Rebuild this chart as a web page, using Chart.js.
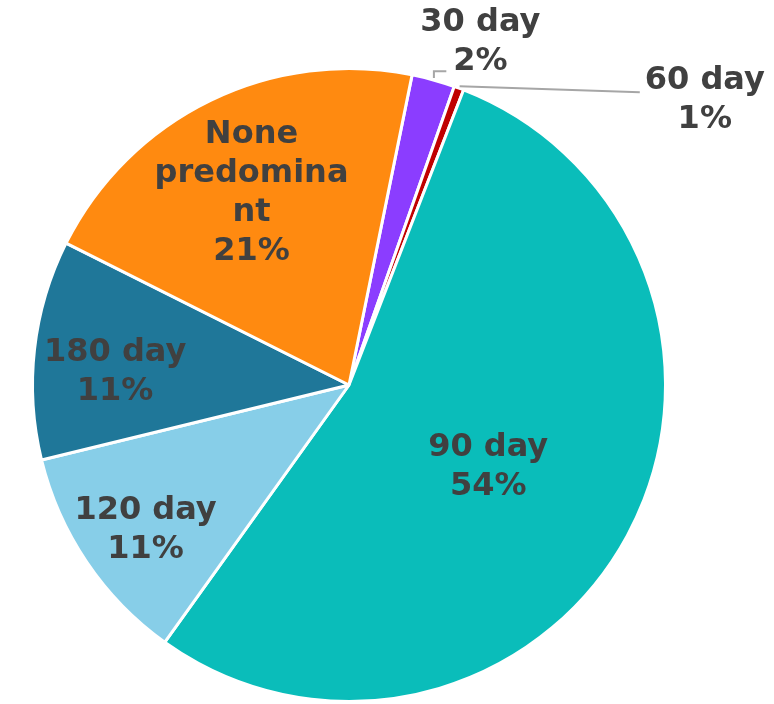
<!DOCTYPE html>
<html>
<head>
<meta charset="utf-8">
<script src="https://cdn.jsdelivr.net/npm/chart.js@4.4.1/dist/chart.umd.min.js"></script>
<style>
  html, body { margin: 0; padding: 0; background: #ffffff; }
  #wrap { width: 774px; height: 704px; }
</style>
</head>
<body>
<div id="wrap"><canvas id="pie" width="774" height="704"></canvas></div>
<script>
// data (percent of total)
const categories = ["30 day", "60 day", "90 day", "120 day", "180 day", "None predominant"];
const shares = [2.2, 0.5, 54.0, 11.3, 11.2, 20.8];
const sliceColors = ["#8B3DFF", "#C00000", "#0ABDBA", "#87CEE8", "#1F7799", "#FF8A10"];

// where each data label sits: fraction of radius + angle shift (deg) from slice middle
const labelSpots = [
  { r: 1.16, shift: 5.5, leader: "elbow" },
  { r: 1.44, shift: 31, leader: "straight" },
  { r: 0.51, shift: 2 },
  { r: 0.79, shift: -1.5 },
  { r: 0.74, shift: -3.4 },
  { r: 0.68, shift: -1 },
];

const LABEL_FONT = "bold 32px 'DejaVu Sans', Verdana, sans-serif";
const LINE_H = 39;

function wrapText(ctx, text, maxW) {
  const lines = [];
  let cur = "";
  text.split(" ").forEach(word => {
    const tryLine = cur ? cur + " " + word : word;
    if (ctx.measureText(tryLine).width <= maxW) {
      cur = tryLine;
      return;
    }
    if (cur) lines.push(cur);
    cur = "";
    // break long words by characters
    let piece = "";
    for (const ch of word) {
      if (ctx.measureText(piece + ch).width > maxW && piece) {
        lines.push(piece);
        piece = ch;
      } else {
        piece += ch;
      }
    }
    cur = piece;
  });
  if (cur) lines.push(cur);
  return lines;
}

const pieLabels = {
  id: "pieLabels",
  afterDatasetsDraw(chart) {
    const ctx = chart.ctx;
    const arcs = chart.getDatasetMeta(0).data;
    ctx.save();
    ctx.font = LABEL_FONT;
    ctx.textAlign = "center";
    ctx.textBaseline = "middle";
    arcs.forEach((arc, i) => {
      const p = arc.getProps(["x", "y", "startAngle", "endAngle", "outerRadius"], true);
      const mid = (p.startAngle + p.endAngle) / 2;
      const spot = labelSpots[i];
      const a = mid + spot.shift * Math.PI / 180;
      const lx = p.x + Math.cos(a) * p.outerRadius * spot.r;
      const ly = p.y + Math.sin(a) * p.outerRadius * spot.r;

      const pct = Math.round(shares[i] / shares.reduce((s, v) => s + v, 0) * 100) + "%";
      const lines = wrapText(ctx, categories[i], 200).concat([pct]);

      if (spot.leader) {
        const sx = p.x + Math.cos(mid) * (p.outerRadius + 2);
        const sy = p.y + Math.sin(mid) * (p.outerRadius + 2);
        ctx.strokeStyle = "#A6A6A6";
        ctx.lineWidth = 2;
        ctx.beginPath();
        ctx.moveTo(sx, sy);
        if (spot.leader === "elbow") {
          const ey = ly + 29;
          ctx.lineTo(sx, ey);
          ctx.lineTo(lx - 34, ey);
        } else {
          ctx.lineTo(lx - 65, ly - 8);
        }
        ctx.stroke();
      }

      ctx.fillStyle = "#404040";
      const top = ly - (lines.length - 1) * LINE_H / 2;
      lines.forEach((t, k) => ctx.fillText(t, lx, top + k * LINE_H));
    });
    ctx.restore();
  }
};

new Chart(document.getElementById("pie").getContext("2d"), {
  type: "pie",
  data: {
    labels: categories,
    datasets: [{
      data: shares,
      backgroundColor: sliceColors,
      borderColor: "#ffffff",
      borderWidth: 3,
    }],
  },
  options: {
    responsive: false,
    animation: false,
    rotation: 11.5,
    layout: { padding: { top: 67, bottom: 1, left: 31, right: 107 } },
    plugins: {
      legend: { display: false },
      tooltip: { enabled: false },
    },
  },
  plugins: [pieLabels],
});
</script>
</body>
</html>
